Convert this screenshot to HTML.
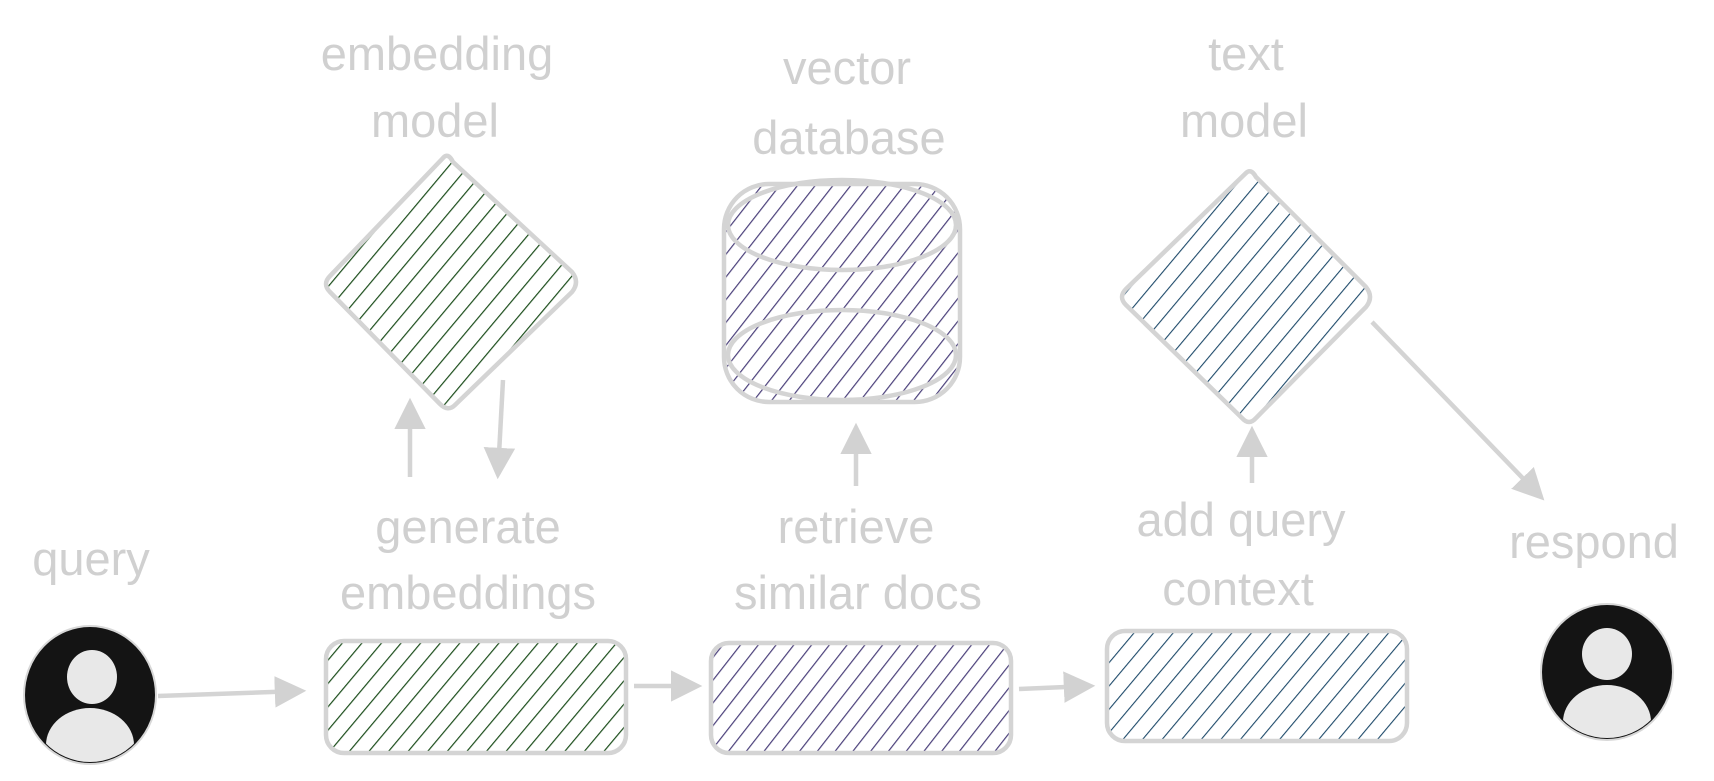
<!DOCTYPE html>
<html><head><meta charset="utf-8"><style>
html,body{margin:0;padding:0;background:#fff;}
svg{display:block}
text{font-family:"Liberation Sans",sans-serif;fill:#d0d0d0;font-size:47px;text-anchor:middle}
</style></head><body>
<svg width="1714" height="781" viewBox="0 0 1714 781" xmlns="http://www.w3.org/2000/svg">
<defs>
<pattern id="hg" width="15" height="15" patternUnits="userSpaceOnUse" patternTransform="rotate(40)"><line x1="0" y1="0" x2="0" y2="15" stroke="#1b4d1b" stroke-width="2.4"/></pattern>
<pattern id="hp" width="14" height="14" patternUnits="userSpaceOnUse" patternTransform="rotate(38)"><line x1="0" y1="0" x2="0" y2="14" stroke="#4a3f7a" stroke-width="2.4"/></pattern>
<pattern id="hb" width="15" height="15" patternUnits="userSpaceOnUse" patternTransform="rotate(40)"><line x1="0" y1="0" x2="0" y2="15" stroke="#1e4a6a" stroke-width="2.2"/></pattern>
<marker id="ar" viewBox="0 0 10 10" refX="8" refY="5" markerWidth="7" markerHeight="7" orient="auto"><path d="M0,0 L10,5 L0,10 z" fill="#d2d2d2"/></marker>
<clipPath id="c1"><ellipse cx="90" cy="695" rx="64" ry="67"/></clipPath>
<clipPath id="c2"><ellipse cx="1607" cy="672" rx="64" ry="66"/></clipPath>
</defs>
<g fill="none" stroke="#d4d4d4" stroke-width="4.5">
<path d="M443,158 Q448,152 453,162 L572,272 Q580,282 572,292 L455,405 Q448,412 440,404 L330,292 Q322,284 330,276 Z" fill="url(#hg)"/>
<path d="M1246,173 Q1251,168 1256,177 L1366,287 Q1374,297 1366,307 L1256,418 Q1249,426 1242,418 L1126,305 Q1118,297 1126,289 Z" fill="url(#hb)"/>
<rect x="724" y="184" width="236" height="218" rx="45" fill="url(#hp)"/>
<ellipse cx="842" cy="225" rx="114" ry="45"/>
<ellipse cx="842" cy="355" rx="114" ry="45"/>
<rect x="326" y="641" width="300" height="112" rx="18" fill="url(#hg)"/>
<rect x="711" y="643" width="300" height="110" rx="18" fill="url(#hp)"/>
<rect x="1107" y="631" width="300" height="110" rx="18" fill="url(#hb)"/>
<g stroke-width="4.5" marker-end="url(#ar)">
<line x1="158" y1="696" x2="300" y2="691"/>
<line x1="634" y1="686" x2="696" y2="686"/>
<line x1="1019" y1="689" x2="1089" y2="686"/>
<line x1="410" y1="477" x2="410" y2="404"/>
<line x1="503" y1="380" x2="498" y2="473"/>
<line x1="856" y1="486" x2="856" y2="429"/>
<line x1="1252" y1="483" x2="1252" y2="432"/>
<line x1="1372" y1="322" x2="1540" y2="496"/>
</g>
</g>
<g>
<ellipse cx="90" cy="695" rx="66" ry="69" fill="#141414" stroke="#d8d8d8" stroke-width="2"/>
<g clip-path="url(#c1)"><ellipse cx="92" cy="677" rx="25" ry="27" fill="#e8e8e8"/><ellipse cx="90" cy="745" rx="44" ry="37" fill="#e8e8e8"/></g>
<ellipse cx="1607" cy="672" rx="66" ry="68" fill="#141414" stroke="#d8d8d8" stroke-width="2"/>
<g clip-path="url(#c2)"><ellipse cx="1607" cy="654" rx="25" ry="26" fill="#e8e8e8"/><ellipse cx="1607" cy="722" rx="44" ry="37" fill="#e8e8e8"/></g>
</g>
<text x="437" y="70">embedding</text>
<text x="435" y="137">model</text>
<text x="847" y="84">vector</text>
<text x="849" y="154">database</text>
<text x="1246" y="70">text</text>
<text x="1244" y="137">model</text>
<text x="91" y="575">query</text>
<text x="468" y="543">generate</text>
<text x="468" y="609">embeddings</text>
<text x="856" y="543">retrieve</text>
<text x="858" y="609">similar docs</text>
<text x="1241" y="536">add query</text>
<text x="1238" y="605">context</text>
<text x="1594" y="558">respond</text>
</svg>
</body></html>
